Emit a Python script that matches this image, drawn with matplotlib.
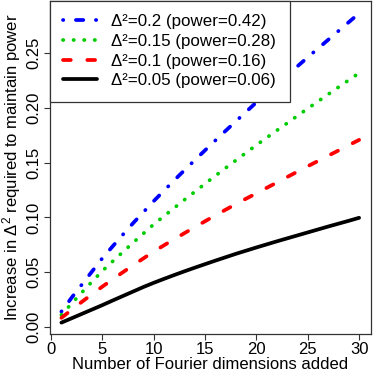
import numpy as np
import matplotlib
matplotlib.use("Agg")
import matplotlib.pyplot as plt

plt.rcParams['font.family'] = ['Liberation Sans', 'DejaVu Sans']
plt.rcParams['mathtext.fontset'] = 'custom'
plt.rcParams['mathtext.rm'] = 'Liberation Sans'
plt.rcParams['mathtext.it'] = 'Liberation Sans:italic'
plt.rcParams['lines.scale_dashes'] = False

dims = list(range(1, 31))

delta_020 = [0.0143, 0.027, 0.039, 0.051, 0.063, 0.0738, 0.0845, 0.095, 0.105, 0.115,
             0.1245, 0.134, 0.1432, 0.1523, 0.1613, 0.1702, 0.179, 0.1877, 0.1963, 0.205,
             0.2133, 0.2215, 0.2297, 0.2378, 0.246, 0.254, 0.262, 0.270, 0.278, 0.286]
delta_015 = [0.0113, 0.0216, 0.0318, 0.0417, 0.0514, 0.0601, 0.0687, 0.0772, 0.0855, 0.0938,
             0.1013, 0.1088, 0.1162, 0.1235, 0.1308, 0.138, 0.1451, 0.1521, 0.1591, 0.166,
             0.1727, 0.1794, 0.186, 0.1927, 0.1993, 0.2058, 0.2123, 0.2188, 0.2252, 0.2316]
delta_010 = [0.0086, 0.0159, 0.0232, 0.0302, 0.0371, 0.0437, 0.0502, 0.0566, 0.0628, 0.069,
             0.0747, 0.0803, 0.0858, 0.0912, 0.0966, 0.1019, 0.1071, 0.1122, 0.1172, 0.122,
             0.127, 0.1319, 0.1369, 0.1418, 0.1467, 0.1515, 0.1563, 0.1611, 0.1659, 0.1707]
delta_005 = [0.0042, 0.0082, 0.0122, 0.0162, 0.0202, 0.0244, 0.0285, 0.0326, 0.0367, 0.0405,
             0.0441, 0.0476, 0.051, 0.0543, 0.0575, 0.0607, 0.0638, 0.0669, 0.0698, 0.0727,
             0.0755, 0.0783, 0.081, 0.0837, 0.0864, 0.0891, 0.0918, 0.0944, 0.097, 0.0997]

labels = ['Δ²=0.2 (power=0.42)', 'Δ²=0.15 (power=0.28)',
          'Δ²=0.1 (power=0.16)', 'Δ²=0.05 (power=0.06)']
colors = ['#0000ff', '#00cd00', '#ff0000', '#000000']
styles = [(0, (0.2, 9.1, 5.3, 9.1)), (0, (0.2, 7.4)), (0, (5.6, 11.9)), '-']

fig = plt.figure(figsize=(3.74, 3.71), dpi=100)
ax = fig.add_axes([49.5 / 374, 37.5 / 371, (371 - 49.5) / 374, (371 - 37.5 - 0.5) / 371])

for ys, c, ls, lab in zip([delta_020, delta_015, delta_010, delta_005], colors, styles, labels):
    ax.plot(dims, ys, color=c, linestyle=ls, lw=2.7, label=lab,
            dash_capstyle='round', solid_capstyle='round')

ax.set_xlim(-0.16, 31.16)
ax.set_ylim(-0.0057, 0.2977)
ax.set_xticks([0, 5, 10, 15, 20, 25, 30])
ax.set_yticks([0, 0.05, 0.10, 0.15, 0.20, 0.25])
ax.set_yticklabels(['0.00', '0.05', '0.10', '0.15', '0.20', '0.25'], rotation=90, va='center')
ax.tick_params(labelsize=12, length=4, width=0.8, color='#333333', pad=2)

for s in ax.spines.values():
    s.set_color('#333333')
    s.set_linewidth(0.9)

ax.set_xlabel('Number of Fourier dimensions added', fontsize=12, labelpad=0)
ax.set_ylabel(r'Increase in $\Delta^2$ required to maintain power', fontsize=12, labelpad=2)

leg = ax.legend(loc='upper left', borderaxespad=0, fontsize=12.2, fancybox=False,
                edgecolor='#333333', framealpha=1, handlelength=2.0, handletextpad=0.85,
                labelspacing=0.28, borderpad=0.8)
leg.get_frame().set_linewidth(0.9)

fig.savefig('out.png', dpi=100)
